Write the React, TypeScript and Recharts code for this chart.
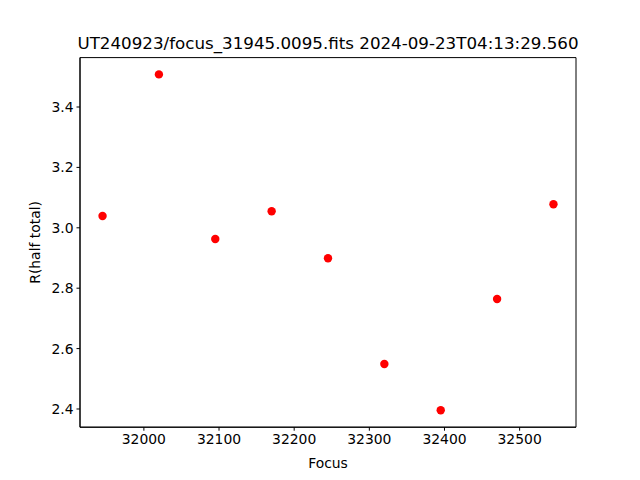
import {
  ScatterChart,
  Scatter,
  XAxis,
  YAxis,
  ReferenceArea,
  Customized,
} from 'recharts';

const focusValues = [31945, 32020, 32095, 32170, 32245, 32320, 32395, 32470, 32545];
const halfTotal = [3.039, 3.508, 2.963, 3.055, 2.899, 2.549, 2.396, 2.764, 3.078];
const xTicks = [32000, 32100, 32200, 32300, 32400, 32500];
const yTicks = [2.4, 2.6, 2.8, 3.0, 3.2, 3.4];
const xDomain = [31915, 32575];
const yDomain = [2.3397, 3.5636];
const title = 'UT240923/focus_31945.0095.fits 2024-09-23T04:13:29.560';

const data = focusValues.map((f, i) => ({ focus: f, r: halfTotal[i] }));

const FONT = '"DejaVu Sans", sans-serif';
const tickStyle = { fontSize: 13.9, fill: '#000', fontFamily: FONT };

const Dot = (props: any) => (
  <circle cx={props.cx} cy={props.cy} r={4.2} fill="#ff0000" />
);

const Title = () => (
  <text x={328} y={49} textAnchor="middle" fontSize={16.7} fontFamily={FONT} fill="#000">
    {title}
  </text>
);

export default function App() {
  return (
    <div style={{ position: 'absolute', left: 0, top: 0, width: 640, height: 480, background: '#fff' }}>
      <ScatterChart
        width={640}
        height={480}
        margin={{ top: 57.6, right: 64, bottom: 22.8, left: 30 }}
      >
        <XAxis
          dataKey="focus"
          type="number"
          domain={xDomain}
          ticks={xTicks}
          allowDataOverflow
          height={30}
          stroke="#000"
          tickSize={3.5}
          tickMargin={3}
          tick={tickStyle}
          label={{ value: 'Focus', position: 'insideBottom', offset: -11, style: { ...tickStyle } }}
        />
        <YAxis
          dataKey="r"
          type="number"
          domain={yDomain}
          ticks={yTicks}
          allowDataOverflow
          width={50}
          stroke="#000"
          tickSize={3.5}
          tickMargin={3}
          tick={tickStyle}
          tickFormatter={(v: number) => v.toFixed(1)}
          label={{
            value: 'R(half total)',
            angle: -90,
            position: 'center',
            dx: -20,
            style: { ...tickStyle, textAnchor: 'middle' },
          }}
        />
        <ReferenceArea
          x1={xDomain[0]}
          x2={xDomain[1]}
          y1={yDomain[0]}
          y2={yDomain[1]}
          fill="none"
          fillOpacity={0}
          stroke="#000"
          strokeWidth={1}
          ifOverflow="visible"
        />
        <Scatter data={data} shape={Dot} isAnimationActive={false} />
        <Customized component={Title} />
      </ScatterChart>
    </div>
  );
}
